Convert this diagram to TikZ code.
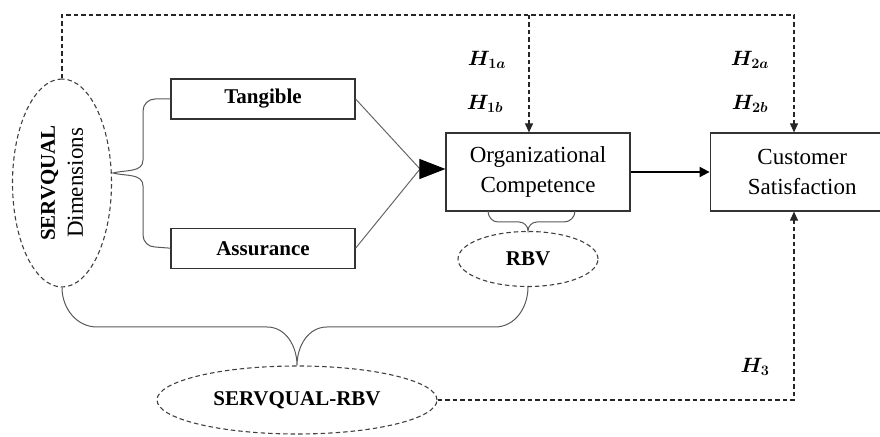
\documentclass[tikz,border=0pt]{standalone}
\usepackage{fontspec}
\setmainfont{Liberation Serif}
\usepackage{bm}
\usetikzlibrary{arrows.meta,shapes.geometric,positioning,calc}
\tikzset{
	factor/.style={
		rectangle,
		draw=black!80,
		line width=1.2pt,
		minimum width=184pt,
		minimum height=40pt,
		inner sep=0pt,
		font=\fontsize{21}{25}\selectfont\bfseries,
	},
	construct/.style={
		factor,
		minimum height=78pt,
		align=center,
		font=\fontsize{23}{30}\selectfont,
	},
	theory/.style={
		ellipse,
		draw=black!75,
		line width=1.1pt,
		dash pattern=on 4.5pt off 3pt,
		inner sep=0pt,
		font=\fontsize{21}{25}\selectfont\bfseries,
	},
	hyp/.style={
		draw=black!85,
		line width=1.1pt,
		dash pattern=on 4.5pt off 3pt,
		-{Triangle[length=9pt,width=8pt]},
	},
	link/.style={
		draw=black!60,
		line width=1pt,
	},
	bracket/.style={
		draw=black!65,
		line width=1pt,
	},
	hlabel/.style={
		font=\fontsize{21}{24}\selectfont,
	}
}

\begin{document}
\begin{tikzpicture}[x=1pt,y=1pt]
\useasboundingbox (0,0) rectangle (880,436);

% constructs
\node[theory,rotate=90,minimum width=208pt,minimum height=99pt,align=center,font=\fontsize{23}{28}\selectfont] (sd) at (62,253) {\textbf{\fontsize{21}{28}\selectfont SERVQUAL}\\Dimensions};
\node[factor] (tang) at (263,337) {Tangible};
\node[factor] (assur) [below=108pt of tang] {Assurance};
\node[construct] (org) at (538,264) {Organizational\\Competence};
\node[construct] (cust) [right=79pt of org] {Customer\\Satisfaction};
\node[theory,minimum width=140pt,minimum height=55pt] (rbv) at (528,177) {RBV};
\node[theory,minimum width=280pt,minimum height=68pt] (sr) at (297,36) {SERVQUAL-RBV};

% hypotheses
\node[hlabel] (h1a) at (487,376) {$\bm{H_{1a}}$};
\node[hlabel] (h1b) at (485,332) {$\bm{H_{1b}}$};
\node[hlabel] (h2a) at (750,376) {$\bm{H_{2a}}$};
\node[hlabel] (h2b) at (750,332) {$\bm{H_{2b}}$};
\node[hlabel] (h3) at (755,69) {$\bm{H_{3}}$};

\coordinate (merge) at (420,267);
\coordinate (topmid) at (529,421);
\coordinate (topright) at (794,421);
\coordinate (botright) at (794,33);

% dimensions into competence
\draw[link] (tang.east) -- (merge);
\draw[link] (assur.east) -- (merge);
\draw[-{Triangle[length=26pt,width=20pt]},line width=1pt] 
  (merge) 
  -- 
  (merge -| org.west);

\draw[-{Triangle[length=10pt,width=10pt]},line width=2pt] 
  (org) 
  -- 
  (cust);

% dashed hypotheses
\draw[hyp] 
  (sd.east) 
  |- 
  (topright) 
  -- 
  (topright |- cust.north);
\draw[hyp] (topmid) -- (topmid |- org.north);
\draw[hyp] 
  (sr.east) 
  -| 
  (botright |- cust.south);

% braces
\draw[bracket] 
  (tang.west) -- (155,337) 
  to[out=180,in=90] (143,325) 
  -- (143,276) 
  to[out=-90,in=15] (113,263) 
  to[out=-15,in=90] (143,250) 
  -- (143,201) 
  to[out=-90,in=180] (155,189) 
  -- (assur.west);

\draw[bracket] 
  (488,225) 
  to[out=-90,in=180] (498,214) 
  -- (519,214) 
  to[out=0,in=90] (rbv.north) 
  to[out=90,in=180] (537,214) 
  -- (564,214) 
  to[out=0,in=-90] (575,225);

\draw[bracket] 
  (sd.west) 
  to[out=-90,in=180] (97,109) 
  -- (267,109) 
  to[out=0,in=90] (sr.north) 
  to[out=90,in=180] (327,109) 
  -- (495,109) 
  to[out=0,in=-90] (rbv.south);

\end{tikzpicture}
\end{document}
